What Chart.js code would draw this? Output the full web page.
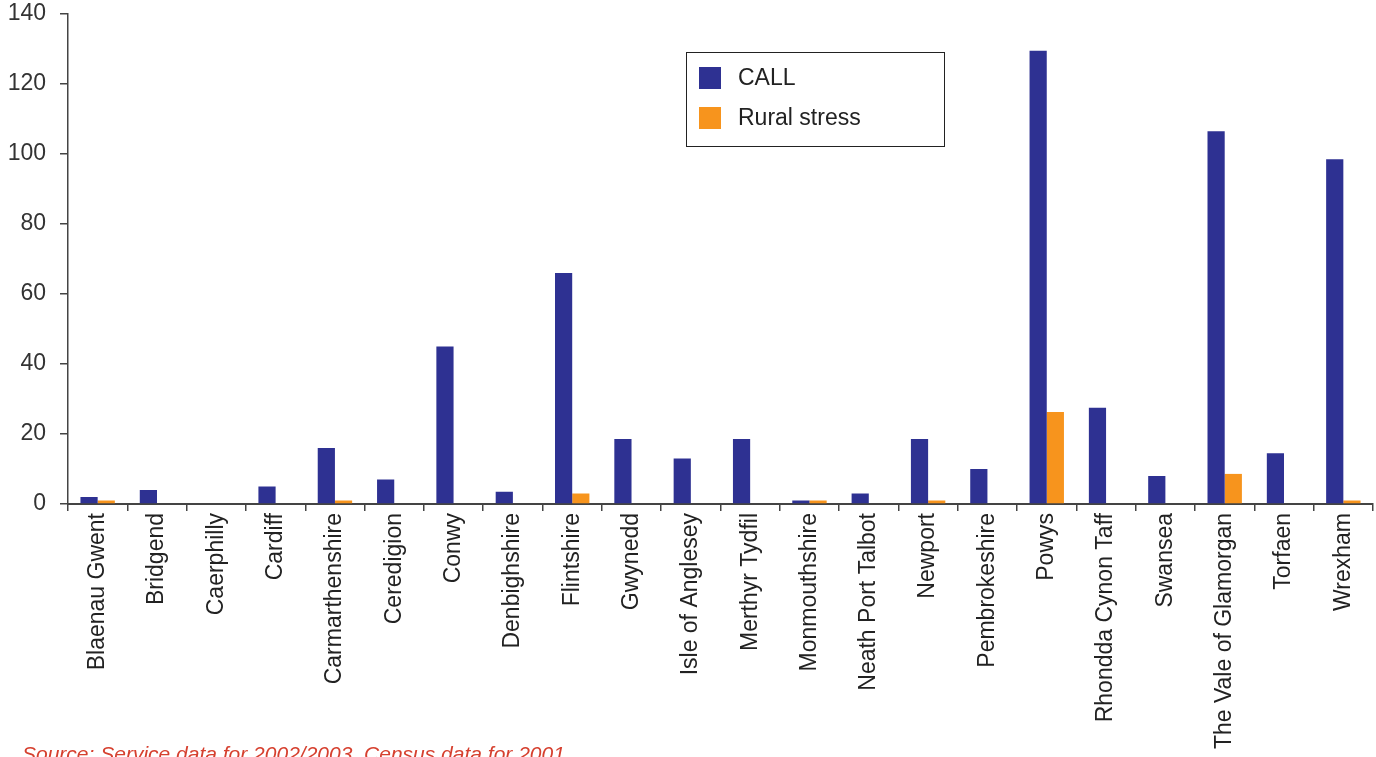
<!DOCTYPE html>
<html>
<head>
<meta charset="utf-8">
<script src="https://cdn.jsdelivr.net/npm/chart.js@4"></script>
<style>
  html, body { margin: 0; padding: 0; background: #fff; }
  #wrap { width: 1376px; height: 757px; position: relative; }
</style>
</head>
<body>
<div id="wrap"><canvas id="myChart" width="1376" height="757"></canvas></div>
<script>
const labels = ['Blaenau Gwent', 'Bridgend', 'Caerphilly', 'Cardiff', 'Carmarthenshire', 'Ceredigion',
  'Conwy', 'Denbighshire', 'Flintshire', 'Gwynedd', 'Isle of Anglesey', 'Merthyr Tydfil',
  'Monmouthshire', 'Neath Port Talbot', 'Newport', 'Pembrokeshire', 'Powys', 'Rhondda Cynon Taff',
  'Swansea', 'The Vale of Glamorgan', 'Torfaen', 'Wrexham']
const callValues = [2, 4, 0, 5, 16, 7, 45, 3.5, 66, 18.6, 13, 18.6, 1, 3, 18.6, 10, 129.5, 27.5, 8, 106.5, 14.5, 98.5]
const ruralValues = [1, 0, 0, 0, 1, 0, 0, 0, 3, 0, 0, 0, 1, 0, 1, 0, 26.3, 0, 0, 8.6, 0, 1]
const yTicks = [0, 20, 40, 60, 80, 100, 120, 140]
const sourceNote = 'Source: Service data for 2002/2003. Census data for 2001'

const FONT = '"Liberation Sans", Arial, Helvetica, sans-serif'
const axisColor = '#444'

// legend box drawn by hand, sits inside the plot
const boxLegend = {
  id: 'boxLegend',
  afterDraw(chart) {
    const c = chart.ctx
    c.save()
    c.strokeStyle = '#222'
    c.lineWidth = 1
    c.strokeRect(686.5, 52.5, 258, 94)
    c.font = '23px ' + FONT
    c.textBaseline = 'middle'
    chart.data.datasets.forEach((ds, i) => {
      const y = 78 + i * 40
      c.fillStyle = ds.backgroundColor
      c.fillRect(699, y - 11, 22, 22)
      c.fillStyle = '#222'
      c.fillText(ds.label, 738, y + 1)
    })
    // source note, cut at the bottom edge like the original
    c.font = 'italic 21px ' + FONT
    c.fillStyle = '#d6402f'
    c.textBaseline = 'alphabetic'
    c.fillText(sourceNote, 22, 761)
    c.restore()
  }
}

const ctx = document.getElementById('myChart')
new Chart(ctx, {
  type: 'bar',
  data: {
    labels: labels,
    datasets: [{
      label: 'CALL',
      data: callValues,
      backgroundColor: '#2e3192',
      categoryPercentage: 0.58,
      barPercentage: 1.0
    }, {
      label: 'Rural stress',
      data: ruralValues,
      backgroundColor: '#f7941d',
      categoryPercentage: 0.58,
      barPercentage: 1.0
    }]
  },
  options: {
    responsive: false,
    animation: false,
    layout: { padding: { top: 14, right: 3, left: 0, bottom: 0 } },
    plugins: {
      legend: { display: false },
      tooltip: { enabled: false }
    },
    scales: {
      x: {
        grid: {
          drawOnChartArea: false,
          drawTicks: true,
          tickLength: 7,
          color: axisColor,
          lineWidth: 1.5,
          offset: true
        },
        border: { color: axisColor, width: 2 },
        ticks: {
          maxRotation: 90,
          minRotation: 90,
          autoSkip: false,
          padding: 2,
          color: '#222',
          font: { family: FONT, size: 23 }
        },
        afterFit(scale) {
          scale.height = 253
          scale.paddingLeft = 0
          scale.paddingRight = 0
        }
      },
      y: {
        min: 0,
        max: 140,
        afterBuildTicks(scale) { scale.ticks = yTicks.map(v => ({ value: v })) },
        grid: {
          drawOnChartArea: false,
          drawTicks: true,
          tickLength: 8,
          color: axisColor,
          lineWidth: 1.5
        },
        border: { color: axisColor, width: 1.5 },
        ticks: {
          padding: 14,
          color: '#333',
          font: { family: FONT, size: 23 }
        },
        afterFit(scale) {
          scale.width = 68
          scale.paddingTop = 0
          scale.paddingBottom = 0
        }
      }
    }
  },
  plugins: [boxLegend]
})
</script>
</body>
</html>
